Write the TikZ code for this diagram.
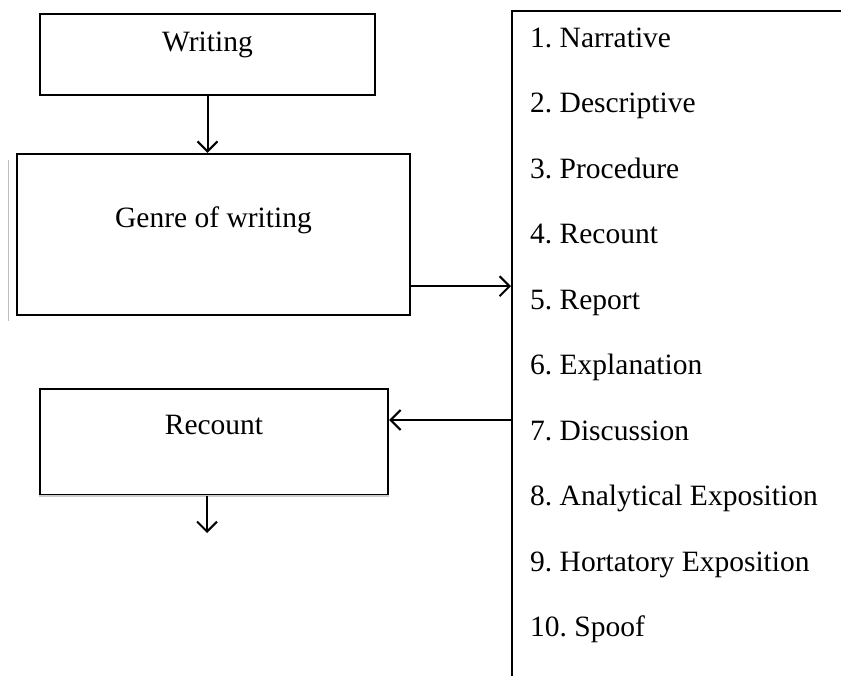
\documentclass[tikz,border=0pt]{standalone}
\usepackage{fontspec}
\setmainfont{Liberation Serif}
\usepackage{tikz}
\usetikzlibrary{arrows.meta}
\tikzstyle{arrow} = [line width=2pt,-{Straight Barb[length=10pt,width=20pt]}]
\tikzstyle{box} = [draw, line width=2.4pt, rectangle, inner sep=0pt]
\tikzstyle{item} = [anchor=base west, inner sep=0pt]

\begin{document}
\frenchspacing
\begin{tikzpicture}[x=1pt, y=-1pt, font=\fontsize{29.5}{35}\selectfont]
    \useasboundingbox (0,0) rectangle (841,676);
    \clip (0,0) rectangle (841,676);
    % left column
    \node[box, minimum width=335pt, text height=38pt, text depth=43pt] (writing) at (207.5,54.5) {Writing};
    \node[box, minimum width=393pt, text height=74pt, text depth=87pt] (genre) at (213.5,234.5) {Genre of writing};
    \node[box, minimum width=348pt, text height=45pt, text depth=61pt] (recount) at (214,442) {Recount};
        \draw[gray!40, line width=2.4pt] (recount.south west) -- (recount.south east);
        \draw[gray!50, line width=0.8pt] ([xshift=-7pt,yshift=-7pt]genre.north west) -- ([xshift=-7pt,yshift=-5pt]genre.south west);
    % list of genres (runs off the page)
    \node[box, minimum width=400pt, minimum height=720pt, anchor=north west] (genres) at (511,10) {};
        \node[item] (item1) at (530,47.3) {1. Narrative};
        \node[item] (item2) at (530,112.8) {2. Descriptive};
        \node[item] (item3) at (530,178.3) {3. Procedure};
        \node[item] (item4) at (530,243.8) {4. Recount};
        \node[item] (item5) at (530,309.3) {5. Report};
        \node[item] (item6) at (530,374.8) {6. Explanation};
        \node[item] (item7) at (530,440.3) {7. Discussion};
        \node[item] (item8) at (530,505.8) {8. Analytical Exposition};
        \node[item] (item9) at (530,571.3) {9. Hortatory Exposition};
        \node[item] (item10) at (530,636.8) {10. Spoof};
    % connectors
    \coordinate (gout) at ([yshift=30pt]genre.south east);
    \coordinate (rin) at ([yshift=22pt]recount.east);
    \coordinate (rout) at (207,533);
    \draw[arrow] (writing.south) -- (writing.south |- genre.north);
    \draw[arrow] (gout) -- (gout -| genres.west);
    \draw[arrow] (rin -| genres.west) -- (rin);
    \draw[arrow] ([xshift=-7pt]recount.south) -- (rout);
\end{tikzpicture}
\end{document}
